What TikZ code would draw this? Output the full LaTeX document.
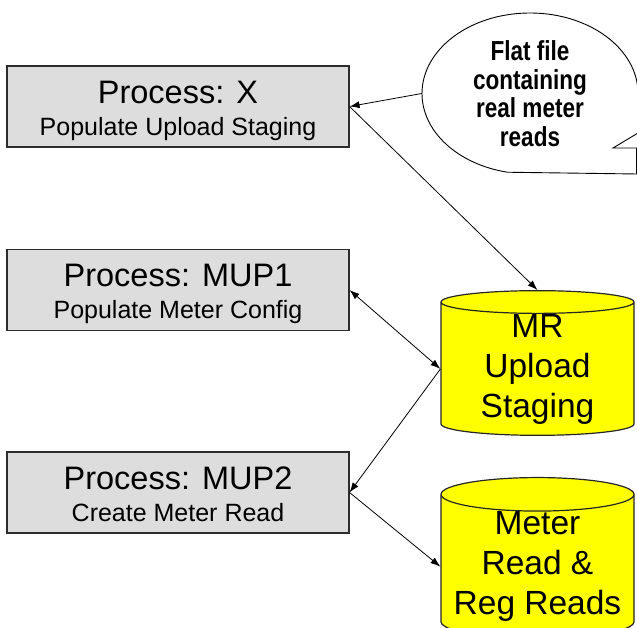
\documentclass[tikz,border=0pt]{standalone}
\usepackage{fontspec}
\setmainfont{Liberation Sans}
\newfontfamily\narrowfont[FakeStretch=0.82]{Liberation Sans}
\usetikzlibrary{shapes.geometric, arrows.meta, positioning}

\definecolor{boxgray}{RGB}{221,221,221}
\definecolor{edgegray}{RGB}{45,45,45}
\definecolor{storeyellow}{RGB}{255,255,0}

\newcommand{\headstrut}{\rule{0pt}{31.6pt}}
\newcommand{\footstrut}{\rule[-6pt]{0pt}{6pt}}

\begin{document}
\begin{tikzpicture}[x=1pt, y=1pt,
    procbox/.style={draw=edgegray, line width=1.1pt, fill=boxgray, minimum width=342pt, minimum height=81pt,
        inner sep=0pt, align=center, font=\fontsize{32.5}{32}\selectfont},
    store/.style={cylinder, shape border rotate=90, aspect=0.2, draw=black!85, line width=1.2pt, fill=storeyellow,
        minimum width=193pt, minimum height=144pt, inner sep=0pt, anchor=shape center, align=center,
        font=\fontsize{33.5}{40}\selectfont},
    flow/.style={-{Latex[length=10pt, width=7pt]}, line width=0.8pt},
    twoway/.style={{Latex[length=10pt, width=7pt]}-{Latex[length=10pt, width=7pt]}, line width=0.8pt}]
    \useasboundingbox (0,0) rectangle (637,628);

    \begin{scope}
        \clip (0,0) rectangle (637,628);
        \draw[line width=0.9pt, fill=white] (638,534.5) arc[start angle=0, end angle=258, x radius=108, y radius=80.5]
            -- (636.5,454) -- (636.5,480) -- (613,480) -- (638,495) -- cycle;
    \end{scope}
    \node[ellipse, minimum width=216pt, minimum height=161pt, inner sep=0pt, align=center,
        font=\narrowfont\bfseries\fontsize{27.5}{28.5}\selectfont] (flat) at (530,534.5) {Flat file\\containing\\real meter\\reads};

    \node[procbox] (procx) at (178,521.5) {\headstrut Process: X\\{\fontsize{25}{26}\selectfont Populate Upload Staging\footstrut}};
    \node[procbox] (mup1) at (178,338) {\headstrut Process: MUP1\\{\fontsize{25}{26}\selectfont Populate Meter Config\footstrut}};
    \node[procbox] (mup2) at (178,135.5) {\headstrut Process: MUP2\\{\fontsize{25}{26}\selectfont Create Meter Read\footstrut}};

    \node[store] (staging) at (537.5,265) {MR\\Upload\\Staging};
    \node[store, minimum height=142pt] (reads) at (537.5,70) {Meter\\Read \&\\Reg Reads};

    \draw[flow] (flat.west) -- (procx.east);
    \draw[flow] (procx.east) -- (staging.north);
    \draw[twoway] (mup1.east) -- (staging.west);
    \draw[flow] (staging.west) -- (mup2.east);
    \draw[flow] (mup2.east) -- (reads.west);
\end{tikzpicture}
\end{document}
